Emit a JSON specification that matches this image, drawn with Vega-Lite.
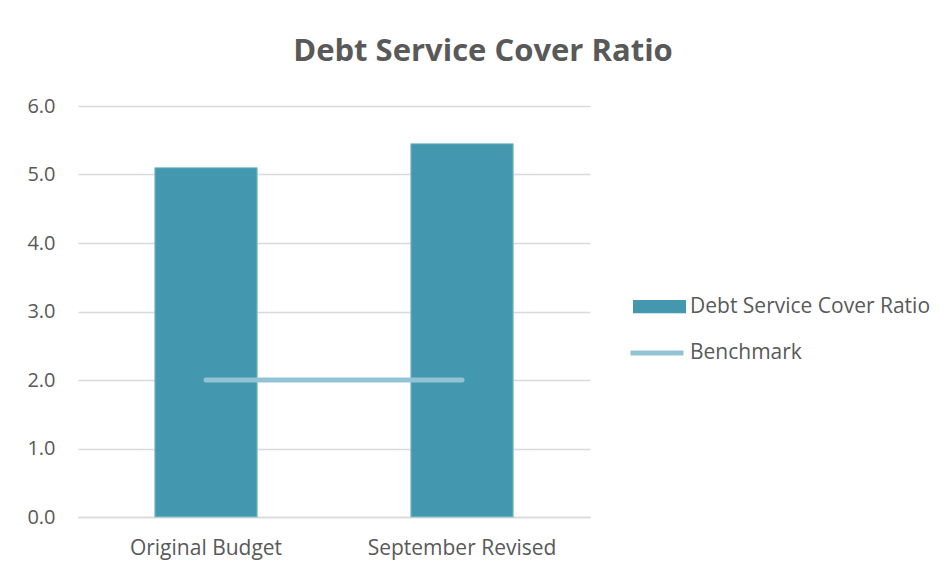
{
  "$schema": "https://vega.github.io/schema/vega-lite/v6.json",
  "autosize": "none",
  "width": 512,
  "height": 411,
  "padding": {"left": 78, "top": 106, "right": 356, "bottom": 56},
  "background": "white",
  "config": {
    "font": "Open Sans",
    "view": {"stroke": null}
  },
  "title": {
    "text": "Debt Service Cover Ratio",
    "fontSize": 31,
    "fontWeight": "bold",
    "color": "#595959",
    "anchor": "middle",
    "frame": "group",
    "dx": 149,
    "offset": 28
  },
  "data": {
    "values": [
      {"category": "Original Budget", "dscr": 5.1, "benchmark": 2.0},
      {"category": "September Revised", "dscr": 5.45, "benchmark": 2.0}
    ]
  },
  "encoding": {
    "x": {
      "field": "category",
      "type": "nominal",
      "sort": null,
      "scale": {"paddingInner": 0.6, "paddingOuter": 0.3},
      "axis": {
        "title": null,
        "labelAngle": 0,
        "labelFontSize": 21,
        "labelColor": "#595959",
        "labelPadding": 20,
        "labelLimit": 0,
        "labelOverlap": false,
        "ticks": false,
        "domainColor": "#d9d9d9",
        "domainWidth": 1.5
      }
    }
  },
  "layer": [
    {
      "mark": {"type": "bar", "stroke": "#8fc3d3", "strokeWidth": 1},
      "encoding": {
        "y": {
          "field": "dscr",
          "type": "quantitative",
          "scale": {"domain": [0, 6]},
          "axis": {
            "title": null,
            "values": [0, 1, 2, 3, 4, 5, 6],
            "format": ".1f",
            "labelFontSize": 20,
            "labelColor": "#595959",
            "labelPadding": 23,
            "ticks": false,
            "domain": false,
            "gridColor": "#d9d9d9",
            "gridWidth": 1.5
          }
        },
        "fill": {
          "datum": "Debt Service Cover Ratio",
          "type": "nominal",
          "scale": {"range": ["#4398af"]},
          "legend": {
            "title": null,
            "orient": "none",
            "legendX": 555,
            "legendY": 174,
            "symbolType": "M-1,-0.25H1V0.25H-1Z",
            "symbolSize": 2809,
            "symbolStrokeWidth": 0,
            "labelFontSize": 21,
            "labelColor": "#595959",
            "labelOffset": 4,
            "labelLimit": 0,
            "padding": 0
          }
        }
      }
    },
    {
      "mark": {"type": "line", "strokeWidth": 5, "strokeCap": "round"},
      "encoding": {
        "y": {"field": "benchmark", "type": "quantitative"},
        "stroke": {
          "datum": "Benchmark",
          "type": "nominal",
          "scale": {"range": ["#92c3d5"]},
          "legend": {
            "title": null,
            "orient": "none",
            "legendX": 550,
            "legendY": 218,
            "symbolType": "stroke",
            "symbolSize": 2809,
            "symbolStrokeWidth": 5,
            "labelFontSize": 21,
            "labelColor": "#595959",
            "labelOffset": 4,
            "labelLimit": 0,
            "padding": 0
          }
        }
      }
    }
  ],
  "resolve": {"scale": {"fill": "independent", "stroke": "independent"}}
}
